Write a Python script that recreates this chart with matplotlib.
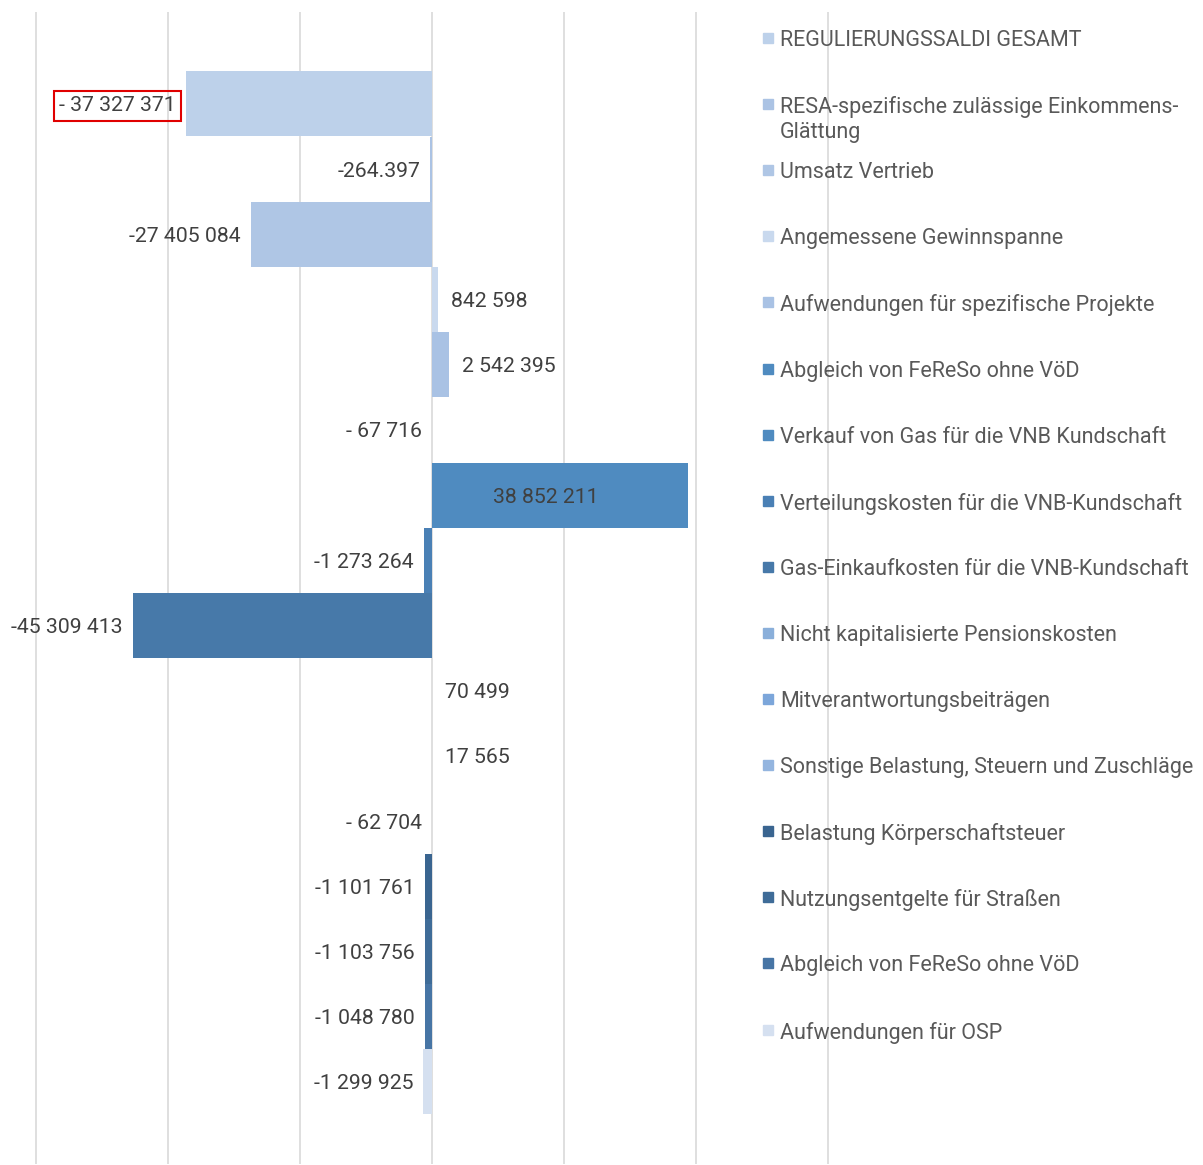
import numpy as np
import matplotlib.pyplot as plt
from matplotlib.patches import Rectangle

plt.rcParams['font.family'] = ['Roboto', 'DejaVu Sans']

# series in legend order, one bar each
names = [
    "REGULIERUNGSSALDI GESAMT",
    "RESA-spezifische zulässige Einkommens-\nGlättung",
    "Umsatz Vertrieb",
    "Angemessene Gewinnspanne",
    "Aufwendungen für spezifische Projekte",
    "Abgleich von FeReSo ohne VöD",
    "Verkauf von Gas für die VNB Kundschaft",
    "Verteilungskosten für die VNB-Kundschaft",
    "Gas-Einkaufkosten für die VNB-Kundschaft",
    "Nicht kapitalisierte Pensionskosten",
    "Mitverantwortungsbeiträgen",
    "Sonstige Belastung, Steuern und Zuschläge",
    "Belastung Körperschaftsteuer",
    "Nutzungsentgelte für Straßen",
    "Abgleich von FeReSo ohne VöD",
    "Aufwendungen für OSP",
]
values = [-37327371, -264397, -27405084, 842598, 2542395, -67716,
          38852211, -1273264, -45309413, 70499, 17565, -62704,
          -1101761, -1103756, -1048780, -1299925]
labels = ["- 37 327 371", "-264.397", "-27 405 084", "842 598", "2 542 395",
          "- 67 716", "38 852 211", "-1 273 264", "-45 309 413", "70 499",
          "17 565", "- 62 704", "-1 101 761", "-1 103 756", "-1 048 780",
          "-1 299 925"]
colors = ['#BDD1EA', '#ABC3E4', '#AFC6E5', '#C9D9EE', '#A9C2E4', '#4F8BC0',
          '#4F8BC0', '#4A80B5', '#4779A9', '#8AAFDA', '#7CA6DA', '#94B5DF',
          '#3A6590', '#3F6C98', '#4775A5', '#D5E0F0']
gridticks = np.arange(-60e6, 60e6 + 1, 20e6)

W, H = 1203, 1165
fig = plt.figure(figsize=(W / 100, H / 100), dpi=100)
ax = fig.add_axes([33 / W, 1 / H, 798 / W, 1152 / H])

y = np.arange(len(values))
ax.barh(y, values, height=0.995, color=colors, zorder=2)

ax.set_xlim(-60.45e6, 60.45e6)
ax.set_ylim(16.26, -1.41)
ax.set_xticks(gridticks)
ax.grid(axis='x', color='#D9D9D9', linewidth=1.2, zorder=0)
ax.tick_params(left=False, bottom=False, labelleft=False, labelbottom=False)
for s in ax.spines.values():
    s.set_visible(False)

# value labels
lab_style = dict(textcoords='offset pixels', va='center', fontsize=15.3, color='#404040')
for i, (v, lab) in enumerate(zip(values, labels)):
    if v > 20e6:
        ax.annotate(lab, xy=(v / 2, i), xytext=(-14, -2), ha='center', **lab_style)
    elif v >= 0:
        ax.annotate(lab, xy=(v, i), xytext=(13, -2), ha='left', **lab_style)
    else:
        box = None
        if i == 0:
            box = dict(boxstyle='square,pad=0.25', fc='none', ec='#E00000', lw=1.5)
        ax.annotate(lab, xy=(v, i), xytext=(-10, -2), ha='right', bbox=box, **lab_style)

# legend drawn by hand on the right
for k, (name, c) in enumerate(zip(names, colors)):
    py = 38 + 66.1 * k
    fig.patches.append(Rectangle((763 / W, 1 - (py + 5) / H), 10 / W, 10 / H,
                                 color=c, transform=fig.transFigure))
    fig.text(780 / W, 1 - (py - 8) / H, name, ha='left', va='top',
             fontsize=15.5, color='#595959', linespacing=1.25)

plt.savefig('out.png', dpi=100)
